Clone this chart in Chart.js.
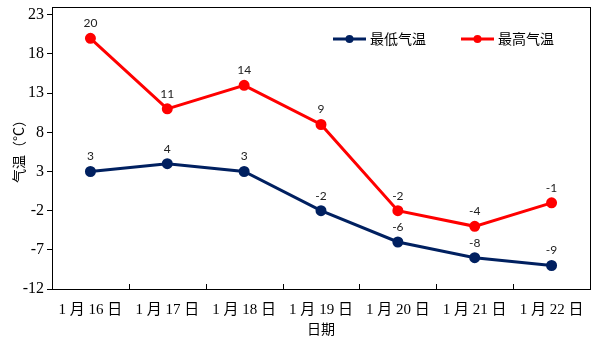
<!DOCTYPE html>
<html>
<head>
<meta charset="utf-8">
<script src="https://cdn.jsdelivr.net/npm/chart.js@4.4.1/dist/chart.umd.min.js"></script>
<style>
html, body { margin: 0; padding: 0; background: #fff; }
#wrap { width: 605px; height: 340px; }
</style>
</head>
<body>
<div id="wrap"><canvas id="c"></canvas></div>
<script>
const dates = ['1 月 16 日', '1 月 17 日', '1 月 18 日', '1 月 19 日', '1 月 20 日', '1 月 21 日', '1 月 22 日'];
const lowTemps = [3, 4, 3, -2, -6, -8, -9];
const highTemps = [20, 11, 14, 9, -2, -4, -1];
const yTicks = [-12, -7, -2, 3, 8, 13, 18, 23];
const seriesNames = ['最低气温', '最高气温'];

const cjk = '"Noto Sans CJK SC", sans-serif';
const serif = '"Liberation Serif", "Noto Sans CJK SC", serif';

// box round the plot + small inward ticks between categories
const frame = {
    id: 'frame',
    afterDraw(chart) {
        const { ctx, chartArea: a } = chart;
        const x = chart.scales.x;
        ctx.save();
        ctx.strokeStyle = '#000';
        ctx.lineWidth = 1;
        ctx.strokeRect(a.left + 0.5, a.top + 0.5, a.right - a.left, a.bottom - a.top);
        ctx.beginPath();
        for (let i = 1; i < dates.length; i++) {
            const px = Math.round((x.getPixelForValue(i - 1) + x.getPixelForValue(i)) / 2) + 0.5;
            ctx.moveTo(px, a.bottom);
            ctx.lineTo(px, a.bottom - 5);
        }
        ctx.stroke();
        ctx.restore();
    }
};

// values above the points
const pointLabels = {
    id: 'pointLabels',
    afterDatasetsDraw(chart) {
        const { ctx } = chart;
        ctx.save();
        ctx.font = '12px Lato, sans-serif';
        ctx.fillStyle = '#222';
        ctx.textAlign = 'center';
        ctx.textBaseline = 'middle';
        chart.data.datasets.forEach((ds, di) => {
            chart.getDatasetMeta(di).data.forEach((pt, i) => {
                ctx.fillText(String(ds.data[i]), pt.x, pt.y - 15);
            });
        });
        ctx.restore();
    }
};

// legend inside the plot, top right
const innerLegend = {
    id: 'innerLegend',
    afterDraw(chart) {
        const { ctx, chartArea: a } = chart;
        ctx.save();
        ctx.font = '14px ' + cjk;
        ctx.textBaseline = 'middle';
        const y = a.top + 32;
        let x = a.right - 257;
        chart.data.datasets.forEach(ds => {
            ctx.strokeStyle = ds.borderColor;
            ctx.fillStyle = ds.borderColor;
            ctx.lineWidth = 3;
            ctx.beginPath();
            ctx.moveTo(x, y);
            ctx.lineTo(x + 33, y);
            ctx.stroke();
            ctx.beginPath();
            ctx.arc(x + 16.5, y, 4, 0, Math.PI * 2);
            ctx.fill();
            ctx.fillStyle = '#000';
            ctx.fillText(ds.label, x + 37, y);
            x += 128;
        });
        ctx.restore();
    }
};

new Chart(document.getElementById('c'), {
    type: 'line',
    data: {
        labels: dates,
        datasets: [{
            label: seriesNames[0],
            data: lowTemps,
            borderColor: '#002060',
            backgroundColor: '#002060',
            borderWidth: 3,
            pointRadius: 4,
            pointHoverRadius: 4,
            tension: 0
        }, {
            label: seriesNames[1],
            data: highTemps,
            borderColor: '#ff0000',
            backgroundColor: '#ff0000',
            borderWidth: 3,
            pointRadius: 4,
            pointHoverRadius: 4,
            tension: 0
        }]
    },
    options: {
        responsive: true,
        maintainAspectRatio: false,
        animation: false,
        layout: { padding: { top: 6, right: 15, left: 0, bottom: 0 } },
        plugins: {
            legend: { display: false },
            tooltip: { enabled: false }
        },
        scales: {
            x: {
                type: 'category',
                offset: true,
                grid: { display: false },
                border: { display: false },
                ticks: {
                    color: '#000',
                    font: { family: serif, size: 15 },
                    padding: 4,
                    maxRotation: 0,
                    autoSkip: false
                },
                title: {
                    display: true,
                    text: '日期',
                    color: '#000',
                    font: { family: cjk, size: 14 },
                    padding: { top: 0, bottom: 3 }
                },
                afterFit(scale) { scale.height = 51; }
            },
            y: {
                min: -12,
                max: 24,
                afterBuildTicks(scale) {
                    scale.ticks = yTicks.map(v => ({ value: v }));
                },
                grid: {
                    display: true,
                    drawOnChartArea: false,
                    drawTicks: true,
                    tickLength: 5,
                    color: '#000'
                },
                border: { display: false },
                ticks: {
                    color: '#000',
                    font: { family: serif, size: 16 },
                    padding: 3
                },
                title: {
                    display: true,
                    text: '气温（°C）',
                    color: '#000',
                    font: { family: cjk, size: 14 },
                    padding: { top: 10, bottom: 0 }
                },
                afterFit(scale) {
                    scale.width = 52;
                    scale.paddingTop = 0;
                    scale.paddingBottom = 0;
                }
            }
        }
    },
    plugins: [frame, pointLabels, innerLegend]
});
</script>
</body>
</html>
